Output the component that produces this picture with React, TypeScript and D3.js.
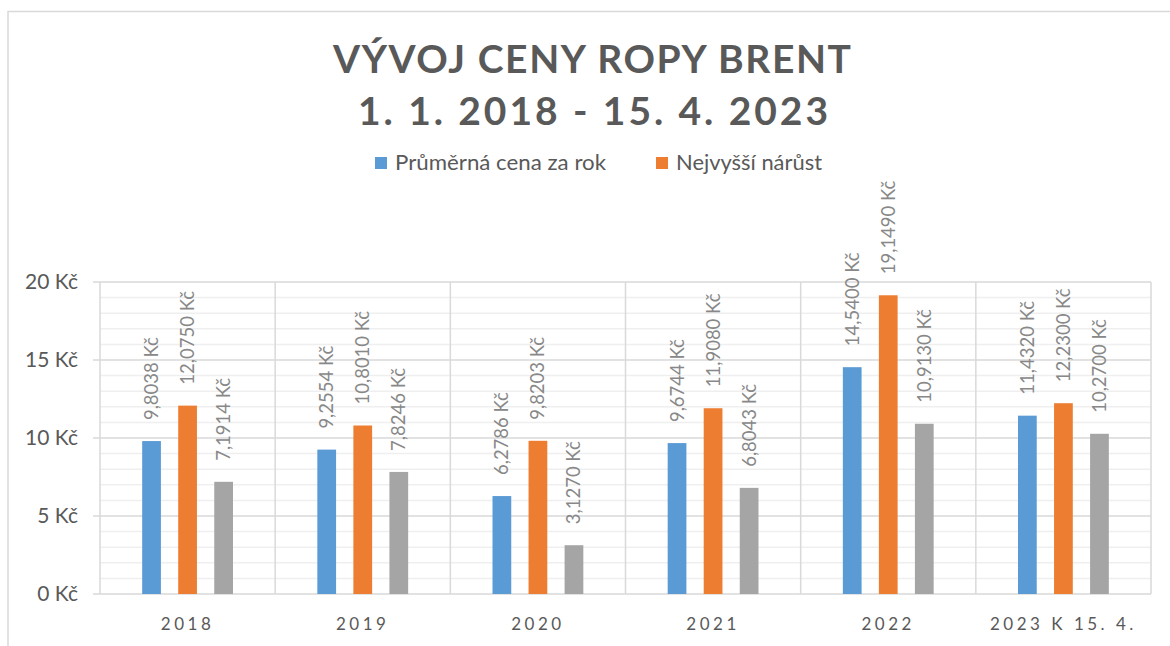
import React from 'react';
import * as d3 from 'd3';

const categories = ['2018', '2019', '2020', '2021', '2022', '2023 K 15. 4.'];
const seriesNames = ['Průměrná cena za rok', 'Nejvyšší nárůst', 'Nejvyšší pokles'];
const avgPrice = [9.8038, 9.2554, 6.2786, 9.6744, 14.54, 11.432];
const maxRise = [12.075, 10.801, 9.8203, 11.908, 19.149, 12.23];
const maxDrop = [7.1914, 7.8246, 3.127, 6.8043, 10.913, 10.27];
const yTicks = [0, 5, 10, 15, 20];
const colors = ['#5b9bd5', '#ed7d31', '#a5a5a5'];

const W = 1170;
const H = 646;
const font = 'Lato, "Open Sans", sans-serif';
const plot = { left: 100, right: 1151, top: 282, bottom: 594 };

const fmt = (v: number) => `${v.toFixed(4).replace('.', ',')} Kč`;

const App = () => {
	const series = [avgPrice, maxRise, maxDrop];
	const x0 = d3.scaleBand().domain(categories).range([plot.left, plot.right]).padding(0);
	const x1 = d3.scaleBand().domain(seriesNames).range([0, x0.bandwidth()])
		.paddingInner(0.48).paddingOuter(1.17);
	const y = d3.scaleLinear().domain([0, 20]).range([plot.bottom, plot.top]);
	const minor = d3.range(0, 21, 1).filter((v) => v % 5 !== 0);

	return (
		<svg width={W} height={H} style={{ position: 'absolute', left: 0, top: 0, background: '#fff' }}>
			<rect x={8} y={11.5} width={W} height={H} fill="none" stroke="#d9d9d9" strokeWidth={1.5}/>

			<text x={592} y={73} textAnchor="middle" fontFamily={font} fontWeight="bold" fontSize={39}
				fill="#595959" textLength={518} lengthAdjust="spacing">VÝVOJ CENY ROPY BRENT</text>
			<text x={593} y={125} textAnchor="middle" fontFamily={font} fontWeight="bold" fontSize={39}
				fill="#595959" textLength={470} lengthAdjust="spacing">1. 1. 2018 - 15. 4. 2023</text>

			{/* legend, third series hidden */}
			<rect x={375} y={157} width={12} height={12} fill={colors[0]}/>
			<text x={395} y={170} fontFamily={font} fontSize={21.5} fill="#595959"
				textLength={211} lengthAdjust="spacingAndGlyphs">{seriesNames[0]}</text>
			<rect x={656} y={157} width={12} height={12} fill={colors[1]}/>
			<text x={676} y={170} fontFamily={font} fontSize={21.5} fill="#595959"
				textLength={146} lengthAdjust="spacingAndGlyphs">{seriesNames[1]}</text>

			{minor.map((v) => (
				<line key={`m${v}`} x1={plot.left} x2={plot.right} y1={y(v)} y2={y(v)} stroke="#efefef" strokeWidth={1.5}/>
			))}
			{yTicks.map((v) => (
				<g key={`t${v}`}>
					<line x1={plot.left - 7} x2={plot.right} y1={y(v)} y2={y(v)} stroke="#d9d9d9" strokeWidth={1.5}/>
					<text x={78} y={y(v)} dy="0.35em" textAnchor="end" fontFamily={font} fontSize={21}
						fill="#595959">{`${v} Kč`}</text>
				</g>
			))}
			{categories.map((c) => (
				<line key={`v${c}`} x1={x0(c)} x2={x0(c)} y1={plot.top} y2={plot.bottom} stroke="#d9d9d9" strokeWidth={1.5}/>
			))}
			<line x1={plot.right} x2={plot.right} y1={plot.top} y2={plot.bottom} stroke="#d9d9d9" strokeWidth={1.5}/>

			{categories.map((c, i) => (
				<g key={c} transform={`translate(${x0(c)},0)`}>
					{series.map((s, j) => {
						const bx = x1(seriesNames[j]) as number;
						const cx = bx + x1.bandwidth() / 2;
						return (
							<g key={j}>
								<rect x={bx} y={y(s[i])} width={x1.bandwidth()} height={plot.bottom - y(s[i])} fill={colors[j]}/>
								<text transform={`translate(${cx},${y(s[i]) - 21}) rotate(-90)`} dy="0.35em"
									fontFamily={font} fontSize={18.5} fill="#888888">{fmt(s[i])}</text>
							</g>
						);
					})}
					<text x={x0.bandwidth() / 2} y={630} textAnchor="middle" fontFamily={font} fontSize={17}
						letterSpacing={3.5} fill="#595959">{c}</text>
				</g>
			))}
		</svg>
	);
};

export default App;
